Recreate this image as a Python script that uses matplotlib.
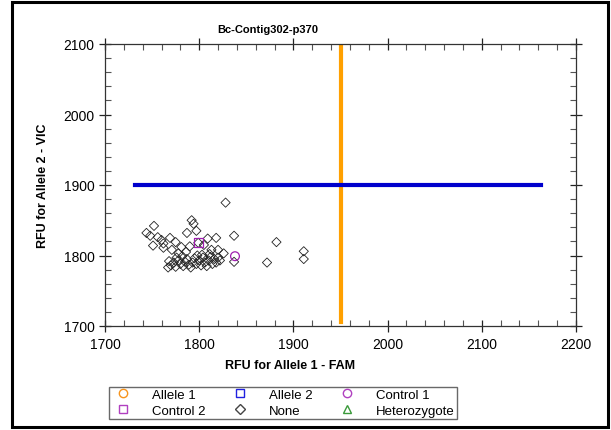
import matplotlib
matplotlib.use("Agg")
import matplotlib.pyplot as plt
from matplotlib.lines import Line2D
from matplotlib.patches import Rectangle
from matplotlib.ticker import MultipleLocator

plt.rcParams['font.family'] = ['Liberation Sans', 'DejaVu Sans']

title = "Bc-Contig302-p370"
xlabel = "RFU for Allele 1 - FAM"
ylabel = "RFU for Allele 2 - VIC"

none_x = [1752, 1744, 1748, 1756, 1751, 1762, 1762, 1769, 1760, 1775, 1781, 1792, 1794,
          1787, 1797, 1799, 1809, 1818, 1805, 1790, 1786, 1771, 1778, 1828, 1837, 1837,
          1882, 1872, 1911, 1911, 1813, 1820, 1826,
          1767, 1770, 1773, 1775, 1778, 1780, 1783, 1785, 1787, 1789, 1791, 1793, 1795,
          1797, 1800, 1802, 1804, 1806, 1808, 1810, 1812, 1814, 1816, 1818, 1820, 1822,
          1776, 1782, 1798, 1768, 1811, 1803]
none_y = [1842, 1832, 1828, 1826, 1814, 1817, 1811, 1825, 1822, 1819, 1812, 1850, 1845,
          1832, 1835, 1818, 1824, 1825, 1815, 1813, 1805, 1808, 1803, 1875, 1828, 1791,
          1819, 1790, 1806, 1795, 1808, 1808, 1803,
          1783, 1786, 1790, 1784, 1793, 1788, 1785, 1791, 1795, 1787, 1783, 1790, 1796,
          1788, 1793, 1786, 1797, 1790, 1785, 1793, 1798, 1788, 1795, 1790, 1797, 1793,
          1797, 1799, 1800, 1792, 1802, 1801]
control1_x = [1838]
control1_y = [1799]
control2_x = [1799]
control2_y = [1818]

vline_x = 1950
vline_y = [1705, 2100]
hline_y = 1900
hline_x = [1732, 2163]

W, H = 611, 431
fig = plt.figure(figsize=(W / 100, H / 100), dpi=100)
fig.patches.append(Rectangle((12 / W, 3 / H), (608 - 12) / W, (428 - 3) / H,
                             transform=fig.transFigure, fill=False,
                             edgecolor='black', linewidth=2.2, zorder=0))

ax = fig.add_axes([105 / W, 1 - 327 / H, (576 - 105) / W, (327 - 45) / H])
ax.set_xlim(1700, 2200)
ax.set_ylim(1700, 2100)

ax.plot([vline_x, vline_x], vline_y, color='#ffa000', linewidth=3.0, zorder=2)
ax.plot(hline_x, [hline_y, hline_y], color='#0000cc', linewidth=3.0, zorder=2)

ax.scatter(none_x, none_y, marker='D', s=22, facecolors='none',
           edgecolors='#222222', linewidths=0.6, zorder=3)
ax.scatter(control1_x, control1_y, marker='o', s=40, facecolors='none',
           edgecolors='#a020b0', linewidths=0.9, zorder=4)
ax.scatter(control2_x, control2_y, marker='s', s=40, facecolors='none',
           edgecolors='#a020b0', linewidths=0.9, zorder=4)

ax.xaxis.set_major_locator(MultipleLocator(100))
ax.xaxis.set_minor_locator(MultipleLocator(20))
ax.yaxis.set_major_locator(MultipleLocator(100))
ax.yaxis.set_minor_locator(MultipleLocator(20))
ax.tick_params(which='major', direction='inout', length=8, width=0.9,
               labelsize=10, top=True, right=True, color='#222222')
ax.tick_params(which='minor', direction='in', length=4, width=0.8,
               top=True, right=True, color='#555555')
ax.tick_params(axis='x', pad=4)
for s in ax.spines.values():
    s.set_linewidth(0.9)
    s.set_color('#333333')

fig.text(268 / W, 1 - 30 / H, title, ha='center', va='center',
         fontsize=8, fontweight='bold')
fig.text(290 / W, 1 - 366 / H, xlabel, ha='center', va='center',
         fontsize=9, fontweight='bold')
fig.text(43 / W, 1 - 186 / H, ylabel, ha='center', va='center',
         fontsize=9, fontweight='bold', rotation=90)

handles = [
    Line2D([], [], marker='o', ls='none', mfc='none', mec='#f7941d', ms=6),
    Line2D([], [], marker='s', ls='none', mfc='none', mec='#b040c0', ms=6),
    Line2D([], [], marker='s', ls='none', mfc='none', mec='#2020e0', ms=6),
    Line2D([], [], marker='D', ls='none', mfc='none', mec='#444444', ms=5),
    Line2D([], [], marker='o', ls='none', mfc='none', mec='#b040c0', ms=6),
    Line2D([], [], marker='^', ls='none', mfc='none', mec='#3a9a3a', ms=6),
]
labels = ["Allele 1", "Control 2", "Allele 2", "None", "Control 1", "Heterozygote"]
leg = fig.legend(handles, labels, ncol=3, loc='lower left',
                 bbox_to_anchor=(109 / W, 1 - 420 / H, (457 - 109) / W, 33 / H),
                 mode='expand', fontsize=9.5, frameon=True, fancybox=False,
                 edgecolor='#444444', borderpad=0.15, labelspacing=0.3,
                 handletextpad=1.3, borderaxespad=0, handlelength=1.8)
leg.get_frame().set_linewidth(1.0)

fig.savefig("out.png", dpi=100)
